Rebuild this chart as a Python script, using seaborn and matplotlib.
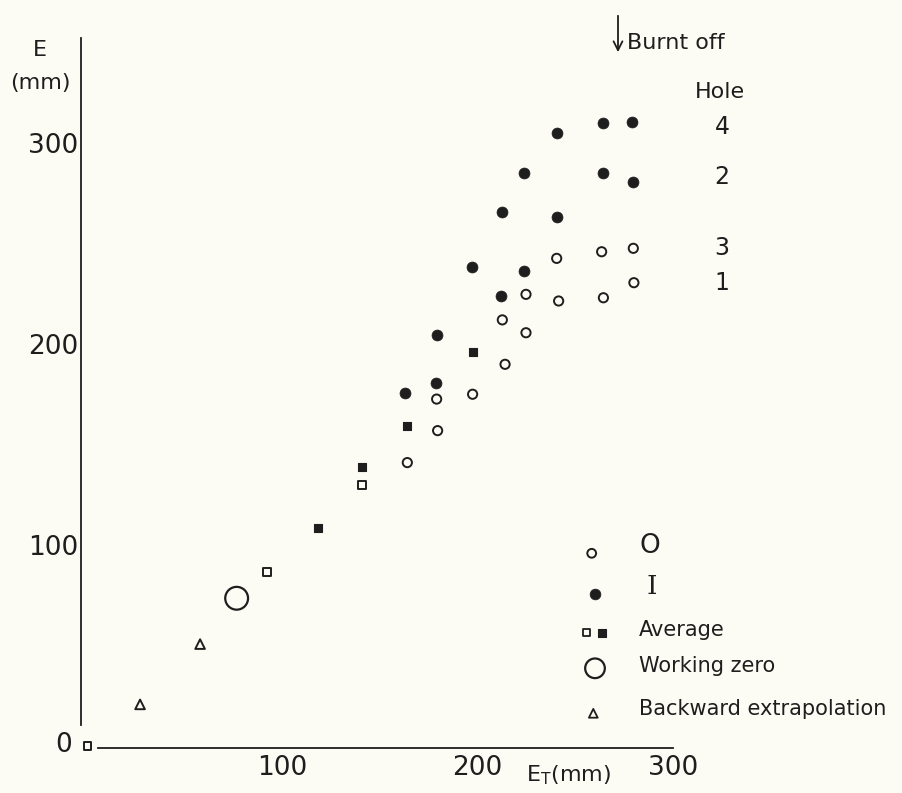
import matplotlib
matplotlib.use("Agg")
import matplotlib.pyplot as plt
import seaborn as sns
import numpy as np

# ---------------- data (E_T mm, E mm) ----------------
open_x = [164.1, 179.6, 179.1, 197.5, 214.1, 224.8, 212.7, 224.8, 241.5, 264.4, 280.0, 240.5, 263.5, 279.7]
open_y = [141.0, 156.9, 172.6, 175.0, 189.9, 205.6, 212.0, 224.7, 221.4, 223.0, 230.5, 242.6, 245.9, 247.6]

filled_x = [162.9, 178.6, 179.1, 211.9, 223.8, 197.0, 240.5, 212.4, 223.8, 264.0, 279.4, 240.5, 264.0, 278.9]
filled_y = [175.8, 180.4, 204.5, 223.9, 236.5, 238.5, 263.0, 265.8, 284.9, 285.2, 280.7, 305.1, 309.8, 310.3]

avg_open_x = [0.6, 92.2, 140.8]
avg_open_y = [0.0, 86.7, 129.9]
avg_filled_x = [118.6, 140.8, 163.8, 197.5]
avg_filled_y = [108.3, 139.0, 159.2, 196.2]

zero_x = [76.8]
zero_y = [73.5]

back_x = [27.4, 58.1]
back_y = [20.7, 50.7]

x_ticks = [100, 200, 300]
y_ticks = [100, 200, 300]
hole_labels = ["4", "2", "3", "1"]
hole_label_y = [308.0, 283.1, 247.8, 230.3]

legend_labels = ["O", "I", "Average", "Working zero", "Backward extrapolation"]

# ---------------- style ----------------
INK = "#1e1e1e"
BG = "#fdfcf4"
sns.set_style("white")
plt.rcParams["font.family"] = ["DejaVu Sans"]

fig = plt.figure(figsize=(9.02, 7.93), dpi=100, facecolor=BG)
ax = fig.add_axes([0, 0, 1, 1])
ax.set_facecolor(BG)

# pixel -> data mapping of the reference
X0, XS = 86.5, 1.955   # px of x=0, px per unit
Y0, YS = 746.0, 2.01
def dx(px):
    return (px - X0) / XS
def dy(py):
    return (Y0 - py) / YS

ax.set_xlim(dx(0), dx(902))
ax.set_ylim(dy(793), dy(0))

# ---------------- data marks ----------------
sns.scatterplot(x=open_x, y=open_y, ax=ax, marker="o", s=44,
                facecolor="none", edgecolor=INK, linewidth=1.4, zorder=3)
sns.scatterplot(x=filled_x, y=filled_y, ax=ax, marker="o", s=62,
                facecolor=INK, edgecolor=INK, linewidth=0.5, zorder=3)
sns.scatterplot(x=avg_open_x, y=avg_open_y, ax=ax, marker="s", s=30,
                facecolor="none", edgecolor=INK, linewidth=1.4, zorder=3)
sns.scatterplot(x=avg_filled_x, y=avg_filled_y, ax=ax, marker="s", s=34,
                facecolor=INK, edgecolor=INK, linewidth=0.8, zorder=3)
sns.scatterplot(x=zero_x, y=zero_y, ax=ax, marker="o", s=270,
                facecolor="none", edgecolor=INK, linewidth=1.6, zorder=3)
sns.scatterplot(x=back_x, y=back_y, ax=ax, marker="^", s=48,
                facecolor="none", edgecolor=INK, linewidth=1.4, zorder=3)

# ---------------- axes ----------------
for s in ["top", "right"]:
    ax.spines[s].set_visible(False)
ax.spines["left"].set_position(("data", dx(81)))
ax.spines["left"].set_bounds(dy(725), dy(38))
ax.spines["bottom"].set_position(("data", dy(748)))
ax.spines["bottom"].set_bounds(dx(98), 300)
for s in ["left", "bottom"]:
    ax.spines[s].set_color(INK)
    ax.spines[s].set_linewidth(1.3)

ax.set_xticks(x_ticks)
ax.set_yticks(y_ticks)
ax.tick_params(axis="x", direction="in", length=14, width=1.3, color=INK,
               labelsize=19, labelcolor=INK, pad=5)
ax.tick_params(axis="y", direction="in", length=12, width=1.3, color=INK,
               labelsize=19, labelcolor=INK, pad=2)
ax.grid(False)

# origin label
ax.text(dx(64), dy(745), "0", fontsize=19, color=INK, ha="center", va="center")

# axis titles
ax.text(dx(40), dy(50), "E", fontsize=16, color=INK, ha="center", va="center")
ax.text(dx(40), dy(83), "(mm)", fontsize=16, color=INK, ha="center", va="center")
ax.text(dx(569), dy(775), r"E$_{\mathrm{T}}$(mm)", fontsize=16, color=INK,
        ha="center", va="center")

# burnt off arrow
ax.annotate("", xy=(dx(618), dy(55)), xytext=(dx(618), dy(13)),
            arrowprops=dict(arrowstyle="->", color=INK, lw=1.3,
                            mutation_scale=16))
ax.text(dx(627), dy(43), "Burnt off", fontsize=16, color=INK,
        ha="left", va="center")

# hole labels
ax.text(dx(720), dy(92), "Hole", fontsize=16, color=INK, ha="center", va="center")
for lab, yy in zip(hole_labels, hole_label_y):
    ax.text(dx(722), yy, lab, fontsize=17, color=INK, ha="center", va="center")

# ---------------- legend ----------------
sns.scatterplot(x=[dx(591.7)], y=[dy(553.3)], ax=ax, marker="o", s=40,
                facecolor="none", edgecolor=INK, linewidth=1.4)
sns.scatterplot(x=[dx(595)], y=[dy(594)], ax=ax, marker="o", s=60,
                facecolor=INK, edgecolor=INK, linewidth=0.5)
sns.scatterplot(x=[dx(586.7)], y=[dy(632.7)], ax=ax, marker="s", s=28,
                facecolor="none", edgecolor=INK, linewidth=1.3)
sns.scatterplot(x=[dx(601.7)], y=[dy(632.7)], ax=ax, marker="s", s=32,
                facecolor=INK, edgecolor=INK, linewidth=0.8)
sns.scatterplot(x=[dx(595)], y=[dy(668.3)], ax=ax, marker="o", s=200,
                facecolor="none", edgecolor=INK, linewidth=1.6)
sns.scatterplot(x=[dx(593.3)], y=[dy(713.3)], ax=ax, marker="^", s=40,
                facecolor="none", edgecolor=INK, linewidth=1.3)

ax.text(dx(650), dy(546), legend_labels[0], fontsize=19, color=INK,
        ha="center", va="center")
ax.text(dx(651.7), dy(587), legend_labels[1], fontsize=19, color=INK,
        ha="center", va="center", family=["DejaVu Serif"])
ax.text(dx(639), dy(630), legend_labels[2], fontsize=15, color=INK,
        ha="left", va="center")
ax.text(dx(639), dy(666), legend_labels[3], fontsize=15, color=INK,
        ha="left", va="center")
ax.text(dx(639), dy(709), legend_labels[4], fontsize=15, color=INK,
        ha="left", va="center")

fig.savefig("out.png", dpi=100, facecolor=BG)
